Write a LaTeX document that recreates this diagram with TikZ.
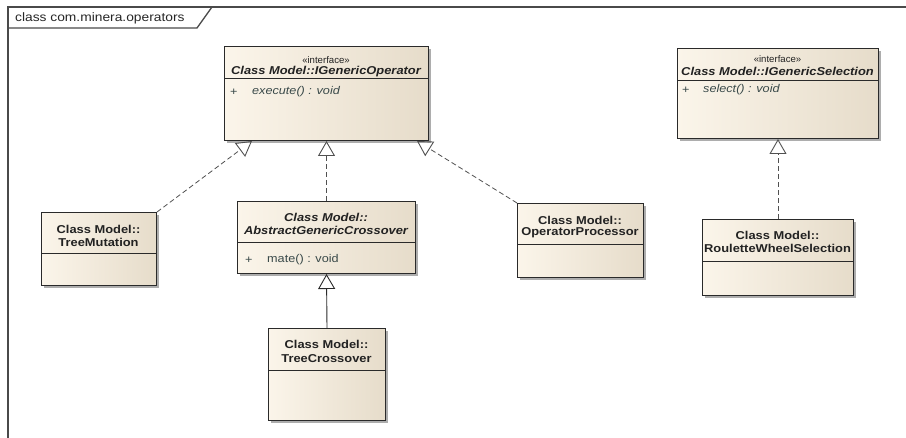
\documentclass[tikz,border=0pt]{standalone}
\usepackage{fontspec}
\usetikzlibrary{arrows.meta,calc,shadows}
\newfontfamily\umlsans[FakeStretch=1.13]{Liberation Sans}
\newfontfamily\umlplain{Liberation Sans}

\definecolor{boxA}{HTML}{FBF5EA}
\definecolor{boxB}{HTML}{E6DCCA}
\definecolor{boxline}{HTML}{2A2A2A}
\definecolor{frameline}{HTML}{4A4A4A}
\definecolor{linkline}{HTML}{505050}
\definecolor{nametext}{HTML}{222222}
\definecolor{optext}{HTML}{3A4A4A}

\tikzset{
  cls/.style={draw=boxline, line width=1pt, left color=boxA, right color=boxB,
    drop shadow={shadow xshift=2.5pt, shadow yshift=-2.5pt, fill=black!32, opacity=1},
    inner sep=0pt, anchor=north west},
  sepline/.style={draw=boxline, line width=1pt},
  stereo/.style={font=\umlplain\fontsize{9.6}{11}\selectfont, text=nametext, inner sep=0pt},
  clsname/.style={font=\umlsans\fontsize{11.4}{13}\selectfont\bfseries, text=nametext, inner sep=0pt},
  absname/.style={font=\umlsans\fontsize{11.4}{13}\selectfont\bfseries\itshape, text=nametext, inner sep=0pt},
  optxt/.style={font=\umlsans\fontsize{11.2}{13}\selectfont, text=optext, inner sep=0pt, anchor=west},
  absop/.style={optxt, font=\umlsans\fontsize{11.2}{13}\selectfont\itshape},
  frametitle/.style={font=\umlsans\fontsize{12.2}{14}\selectfont, text=black!85, inner sep=0pt, anchor=west},
  frameline/.style={draw=frameline, line width=1.3pt},
  opentip/.style={-{Triangle[open, length=15pt, width=17pt, line width=0.9pt]}},
  realize/.style={draw=linkline, line width=0.8pt, dash pattern=on 5pt off 3pt, opentip},
  inherit/.style={draw=boxline, line width=0.9pt, opentip},
}

\begin{document}
\begin{tikzpicture}[x=1pt, y=-1pt]
  \useasboundingbox (0,0) rectangle (906,438);

  % diagram frame with its name tab
  \node[frametitle] (ttl) at (15,18) {class com.minera.operators};
  \draw[frameline] (8,438) -- (8,7) -- (906,7);
  \draw[frameline] (8,28) -- (197,28) -- (212,7);

  % interface IGenericOperator
  \node[cls, minimum width=204pt, minimum height=94pt] (igo) at (224,46) {};
  \node[stereo] (igo-st) at (326,60) {«interface»};
  \node[absname] (igo-nm) at (326,72) {Class Model::IGenericOperator};
  \draw[sepline] ($(igo.north west)+(0,33)$) -- ($(igo.north east)+(0,33)$);
  \node[optxt] (igo-pl) at (230,92) {+};
  \node[absop] (igo-op) at (252,92) {execute() : void};

  % interface IGenericSelection
  \node[cls, minimum width=201pt, minimum height=90pt] (igs) at (677,48) {};
  \node[stereo] (igs-st) at (777.5,59) {«interface»};
  \node[absname] (igs-nm) at (777.5,71) {Class Model::IGenericSelection};
  \draw[sepline] ($(igs.north west)+(0,33)$) -- ($(igs.north east)+(0,33)$);
  \node[optxt] (igs-pl) at (682,90) {+};
  \node[absop] (igs-op) at (703,90) {select() : void};

  % class TreeMutation
  \node[cls, minimum width=115pt, minimum height=73pt] (tm) at (41,212) {};
  \node[clsname] (tm-a) at (98.5,229) {Class Model::};
  \node[clsname] (tm-b) at (98.5,242) {TreeMutation};
  \draw[sepline] ($(tm.north west)+(0,42)$) -- ($(tm.north east)+(0,42)$);

  % abstract class AbstractGenericCrossover
  \node[cls, minimum width=178pt, minimum height=72pt] (agc) at (237,201) {};
  \node[absname] (agc-a) at (326,217) {Class Model::};
  \node[absname] (agc-b) at (326,230) {AbstractGenericCrossover};
  \draw[sepline] ($(agc.north west)+(0,42)$) -- ($(agc.north east)+(0,42)$);
  \node[optxt] (agc-pl) at (245,260) {+};
  \node[optxt] (agc-op) at (267,260) {mate() : void};

  % class OperatorProcessor
  \node[cls, minimum width=126pt, minimum height=74pt] (op) at (517,203) {};
  \node[clsname] (op-a) at (580,220) {Class Model::};
  \node[clsname] (op-b) at (580,233) {OperatorProcessor};
  \draw[sepline] ($(op.north west)+(0,42)$) -- ($(op.north east)+(0,42)$);

  % class RouletteWheelSelection
  \node[cls, minimum width=151pt, minimum height=76pt] (rws) at (702,219) {};
  \node[clsname] (rws-a) at (777.5,235) {Class Model::};
  \node[clsname] (rws-b) at (777.5,248) {RouletteWheelSelection};
  \draw[sepline] ($(rws.north west)+(0,43)$) -- ($(rws.north east)+(0,43)$);

  % class TreeCrossover
  \node[cls, minimum width=117pt, minimum height=92pt] (tc) at (268,328) {};
  \node[clsname] (tc-a) at (326.5,344) {Class Model::};
  \node[clsname] (tc-b) at (326.5,359) {TreeCrossover};
  \draw[sepline] ($(tc.north west)+(0,43)$) -- ($(tc.north east)+(0,43)$);

  % attachment points on the interface boxes
  \coordinate (igo-l) at ($(igo.south west)+(28,0)$);
  \coordinate (igo-r) at ($(igo.south east)+(-12,0)$);

  % realizations and generalization
  \draw[realize] (tm.north east) -- (igo-l);
  \draw[realize] (agc.north) -- (igo.south);
  \draw[realize] (op.north west) -- (igo-r);
  \draw[realize] (rws.north) -- (igs.south);
  \draw[inherit] (tc.north) -- (agc.south);
\end{tikzpicture}
\end{document}
